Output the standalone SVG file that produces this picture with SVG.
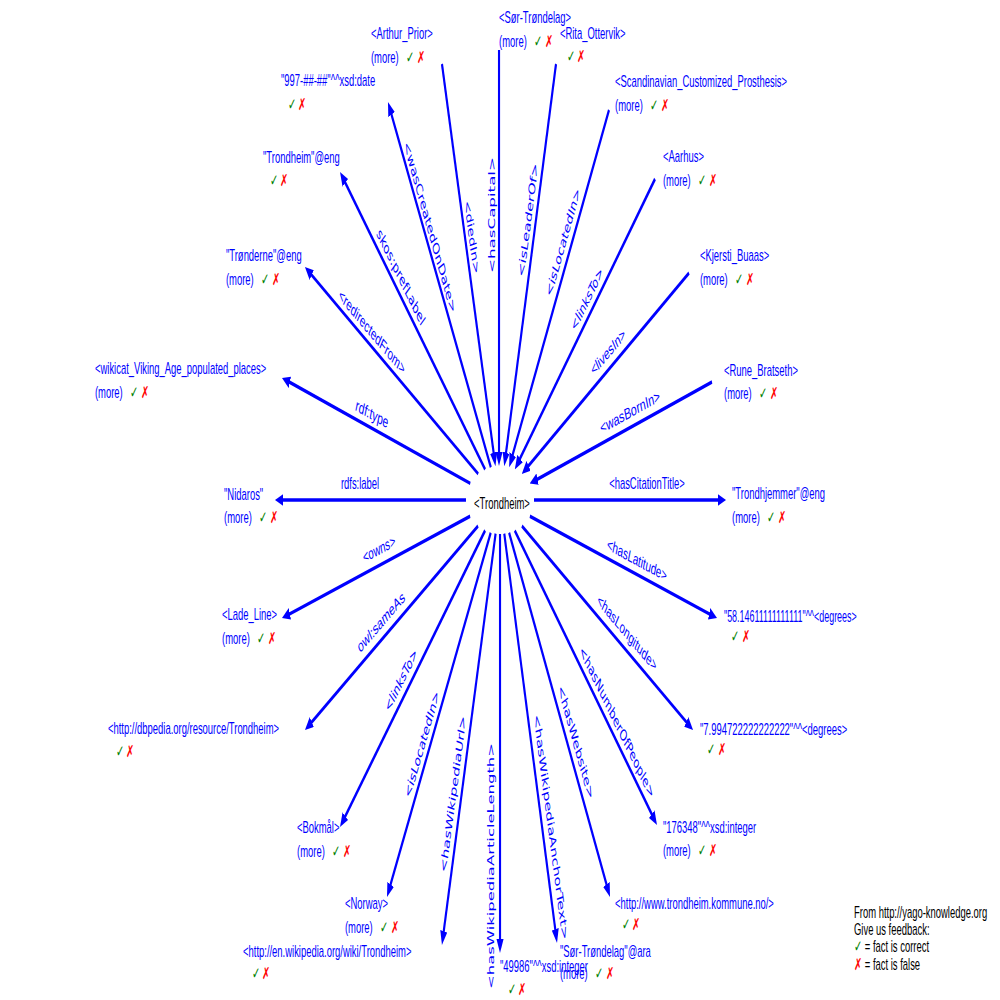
<svg xmlns="http://www.w3.org/2000/svg" width="1000" height="1000" viewBox="0 0 1000 1000">
<style>
.n{font-family:"Liberation Sans",Arial,sans-serif;font-size:16px;fill:#0000ff}
.k{font-family:"DejaVu Sans",sans-serif;font-size:16.5px;fill:#008000}
.x{font-family:"DejaVu Sans",sans-serif;font-size:16.5px;fill:#ff0000}
.el{font-family:"Liberation Sans",Arial,sans-serif;font-size:16px;fill:#0000ff;text-anchor:middle;dominant-baseline:central}
.ed{font-family:"DejaVu Sans",sans-serif;font-size:15.5px;fill:#0000ff;text-anchor:middle;dominant-baseline:central}
.eh{font-family:"Liberation Sans",Arial,sans-serif;font-size:16px;fill:#0000ff;text-anchor:middle}
.e{stroke:#0000ff;stroke-width:3.6;fill:none;marker-end:url(#ah)}
.lg{font-family:"Liberation Sans",Arial,sans-serif;font-size:16px;fill:#000}
</style>
<defs>
<marker id="ah" viewBox="0 0 14 12" markerWidth="14" markerHeight="12" refX="6" refY="6" orient="auto" markerUnits="userSpaceOnUse">
<path d="M0,0L14,6L0,12z" fill="#0000ff"/>
</marker>
</defs>
<rect width="1000" height="1000" fill="#ffffff"/>
<g transform="scale(0.59,1)">
<g id="connectors">
<path class="e" d="M831.9,467.3L661.0,109.2"/>
<path class="e" d="M822.2,469.4L581.4,178.2"/>
<path class="e" d="M810.5,473.9L523.4,271.6"/>
<path class="e" d="M797.1,483.4L485.6,380.5"/>
<path class="e" d="M789.8,500L474.1,500"/>
<path class="e" d="M796.8,516.2L485.6,615.6"/>
<path class="e" d="M810.2,525.9L523.5,725.4"/>
<path class="e" d="M822.2,530.5L581.4,820.8"/>
<path class="e" d="M831.7,532.7L659.4,889.8"/>
<path class="e" d="M840.0,533.7L750.8,937.2"/>
<path class="e" d="M847.5,534L847.5,945"/>
<path class="e" d="M854.7,533.7L942.4,935.2"/>
<path class="e" d="M862.9,532.8L1030.5,889.8"/>
<path class="e" d="M872.5,530.6L1108.5,818.8"/>
<path class="e" d="M884.6,526.0L1168.1,725.4"/>
<path class="e" d="M898.1,516.2L1207.6,615.6"/>
<path class="e" d="M905.1,500L1222.5,500"/>
<path class="e" d="M1206.8,382L905.4,481.0"/>
<path class="e" d="M1167.8,273L890.9,469.3"/>
<path class="e" d="M1110.2,179L877.6,463.2"/>
<path class="e" d="M1032.2,110L866.4,460.1"/>
<path class="e" d="M942.4,64L856.4,458.5"/>
<path class="e" d="M845.8,50L845.8,458"/>
<path class="e" d="M749.1,64L838.0,458.5"/>

<text class="ed" transform="translate(728.8,227) rotate(64.5)" textLength="188" lengthAdjust="spacingAndGlyphs">&lt;wasCreatedOnDate&gt;</text>
<text class="ed" transform="translate(679.7,277) rotate(50.4)" textLength="120" lengthAdjust="spacingAndGlyphs">skos:prefLabel</text>
<text class="el" transform="translate(630.5,332) rotate(35.2)" textLength="134" lengthAdjust="spacingAndGlyphs">&lt;redirectedFrom&gt;</text>
<text class="el" transform="translate(630.5,414) rotate(18.3)" textLength="58" lengthAdjust="spacingAndGlyphs">rdf:type</text>
<text class="eh" x="610.2" y="489">rdfs:label</text>
<text class="el" transform="translate(642.4,549) rotate(-17.7)" textLength="57" lengthAdjust="spacingAndGlyphs">&lt;owns&gt;</text>
<text class="el" transform="translate(645.8,622) rotate(-34.8)" textLength="94" lengthAdjust="spacingAndGlyphs">owl:sameAs</text>
<text class="ed" transform="translate(679.7,680) rotate(-50.3)" textLength="77" lengthAdjust="spacingAndGlyphs">&lt;linksTo&gt;</text>
<text class="ed" transform="translate(715.2,744) rotate(-64.2)" textLength="117" lengthAdjust="spacingAndGlyphs">&lt;isLocatedIn&gt;</text>
<text class="ed" transform="translate(767.8,794) rotate(-77.5)" textLength="160" lengthAdjust="spacingAndGlyphs">&lt;hasWikipediaUrl&gt;</text>
<text class="ed" transform="translate(832.2,866) rotate(-90)" textLength="246" lengthAdjust="spacingAndGlyphs">&lt;hasWikipediaArticleLength&gt;</text>
<text class="ed" transform="translate(933.9,827) rotate(77.7)" textLength="230" lengthAdjust="spacingAndGlyphs">&lt;hasWikipediaAnchorText&gt;</text>
<text class="ed" transform="translate(976.3,742) rotate(64.8)" textLength="124" lengthAdjust="spacingAndGlyphs">&lt;hasWebsite&gt;</text>
<text class="ed" transform="translate(1045.8,722) rotate(50.7)" textLength="191" lengthAdjust="spacingAndGlyphs">&lt;hasNumberOfPeople&gt;</text>
<text class="el" transform="translate(1062.7,633) rotate(35.1)" textLength="120" lengthAdjust="spacingAndGlyphs">&lt;hasLongitude&gt;</text>
<text class="el" transform="translate(1079.7,560) rotate(17.8)" textLength="106" lengthAdjust="spacingAndGlyphs">&lt;hasLatitude&gt;</text>
<text class="eh" x="1096.6" y="489">&lt;hasCitationTitle&gt;</text>
<text class="el" transform="translate(1067.8,412) rotate(-18.2)" textLength="106" lengthAdjust="spacingAndGlyphs">&lt;wasBornIn&gt;</text>
<text class="el" transform="translate(1030.5,352) rotate(-35.3)" textLength="68" lengthAdjust="spacingAndGlyphs">&lt;livesIn&gt;</text>
<text class="ed" transform="translate(994.9,299) rotate(-50.7)" textLength="77" lengthAdjust="spacingAndGlyphs">&lt;linksTo&gt;</text>
<text class="ed" transform="translate(954.2,242) rotate(-64.7)" textLength="118" lengthAdjust="spacingAndGlyphs">&lt;isLocatedIn&gt;</text>
<text class="ed" transform="translate(894.9,220) rotate(-77.7)" textLength="116" lengthAdjust="spacingAndGlyphs">&lt;isLeaderOf&gt;</text>
<text class="ed" transform="translate(833.9,215) rotate(-90)" textLength="116" lengthAdjust="spacingAndGlyphs">&lt;hasCapital&gt;</text>
<text class="ed" transform="translate(800,237) rotate(77.3)" textLength="75" lengthAdjust="spacingAndGlyphs">&lt;diedIn&gt;</text>
</g>

<g id="n-trondheim"><text x="850.8" y="509" text-anchor="middle" style="font-family:'Liberation Sans',Arial,sans-serif;font-size:16px;fill:#000">&lt;Trondheim&gt;</text></g>

<g id="n-arthur"><text class="n" x="628.8" y="39">&lt;Arthur_Prior&gt;</text><text class="n" x="628.8" y="63">(more)</text><text class="k" x="688.1" y="63">✓</text><text class="x" x="706.8" y="63">✗</text></g>
<g id="n-sortrondelag"><text class="n" x="845.8" y="23">&lt;Sør-Trøndelag&gt;</text><text class="n" x="845.8" y="47">(more)</text><text class="k" x="905.1" y="47">✓</text><text class="x" x="923.7" y="47">✗</text></g>
<g id="n-rita"><text class="n" x="949.1" y="39">&lt;Rita_Ottervik&gt;</text><text class="k" x="961.0" y="62">✓</text><text class="x" x="978.0" y="62">✗</text></g>
<g id="n-date"><text class="n" x="476.3" y="86">"997-##-##"^^xsd:date</text><text class="k" x="488.1" y="110">✓</text><text class="x" x="505.1" y="110">✗</text></g>
<g id="n-trondheimeng"><text class="n" x="445.8" y="163">"Trondheim"@eng</text><text class="k" x="457.6" y="186">✓</text><text class="x" x="474.6" y="186">✗</text></g>
<g id="n-scandinavian"><text class="n" x="1042.4" y="87">&lt;Scandinavian_Customized_Prosthesis&gt;</text><text class="n" x="1042.4" y="111">(more)</text><text class="k" x="1101.7" y="111">✓</text><text class="x" x="1120.3" y="111">✗</text></g>
<g id="n-aarhus"><text class="n" x="1123.7" y="162">&lt;Aarhus&gt;</text><text class="n" x="1123.7" y="186">(more)</text><text class="k" x="1183.0" y="186">✓</text><text class="x" x="1201.7" y="186">✗</text></g>
<g id="n-kjersti"><text class="n" x="1186.4" y="261">&lt;Kjersti_Buaas&gt;</text><text class="n" x="1186.4" y="285">(more)</text><text class="k" x="1245.8" y="285">✓</text><text class="x" x="1264.4" y="285">✗</text></g>
<g id="n-rune"><text class="n" x="1227.1" y="376">&lt;Rune_Bratseth&gt;</text><text class="n" x="1227.1" y="399">(more)</text><text class="k" x="1286.4" y="399">✓</text><text class="x" x="1305.1" y="399">✗</text></g>
<g id="n-tronderne"><text class="n" x="383.0" y="261">"Trønderne"@eng</text><text class="n" x="383.0" y="285">(more)</text><text class="k" x="442.4" y="285">✓</text><text class="x" x="461.0" y="285">✗</text></g>
<g id="n-wikicat"><text class="n" x="161.0" y="374">&lt;wikicat_Viking_Age_populated_places&gt;</text><text class="n" x="161.0" y="398">(more)</text><text class="k" x="220.3" y="398">✓</text><text class="x" x="239.0" y="398">✗</text></g>
<g id="n-nidaros"><text class="n" x="379.7" y="500">"Nidaros"</text><text class="n" x="379.7" y="523">(more)</text><text class="k" x="439.0" y="523">✓</text><text class="x" x="457.6" y="523">✗</text></g>
<g id="n-lade"><text class="n" x="376.3" y="620">&lt;Lade_Line&gt;</text><text class="n" x="376.3" y="644">(more)</text><text class="k" x="435.6" y="644">✓</text><text class="x" x="454.2" y="644">✗</text></g>
<g id="n-dbpedia"><text class="n" x="183.0" y="734">&lt;http://dbpedia.org/resource/Trondheim&gt;</text><text class="k" x="196.6" y="757">✓</text><text class="x" x="213.6" y="757">✗</text></g>
<g id="n-bokmal"><text class="n" x="503.4" y="833">&lt;Bokmål&gt;</text><text class="n" x="503.4" y="857">(more)</text><text class="k" x="562.7" y="857">✓</text><text class="x" x="581.3" y="857">✗</text></g>
<g id="n-norway"><text class="n" x="584.7" y="909">&lt;Norway&gt;</text><text class="n" x="584.7" y="933">(more)</text><text class="k" x="644.1" y="933">✓</text><text class="x" x="662.7" y="933">✗</text></g>
<g id="n-enwiki"><text class="n" x="411.9" y="957">&lt;http://en.wikipedia.org/wiki/Trondheim&gt;</text><text class="k" x="427.1" y="979">✓</text><text class="x" x="444.1" y="979">✗</text></g>
<g id="n-length"><text class="n" x="847.5" y="972">"49986"^^xsd:integer</text><text class="k" x="861.0" y="995">✓</text><text class="x" x="878.0" y="995">✗</text></g>
<g id="n-anchor"><text class="n" x="949.1" y="957">"Sør-Trøndelag"@ara</text><text class="n" x="949.1" y="979">(more)</text><text class="k" x="1008.5" y="979">✓</text><text class="x" x="1027.1" y="979">✗</text></g>
<g id="n-website"><text class="n" x="1042.4" y="909">&lt;http://www.trondheim.kommune.no/&gt;</text><text class="k" x="1054.2" y="930">✓</text><text class="x" x="1071.2" y="930">✗</text></g>
<g id="n-people"><text class="n" x="1123.7" y="833">"176348"^^xsd:integer</text><text class="n" x="1123.7" y="856">(more)</text><text class="k" x="1183.0" y="856">✓</text><text class="x" x="1201.7" y="856">✗</text></g>
<g id="n-longitude"><text class="n" x="1186.4" y="735">"7.994722222222222"^^&lt;degrees&gt;</text><text class="k" x="1198.3" y="755">✓</text><text class="x" x="1216.9" y="755">✗</text></g>
<g id="n-latitude"><text class="n" x="1227.1" y="622" textLength="225" lengthAdjust="spacingAndGlyphs">"58.14611111111111"^^&lt;degrees&gt;</text><text class="k" x="1239.0" y="642">✓</text><text class="x" x="1257.6" y="642">✗</text></g>
<g id="n-citation"><text class="n" x="1240.7" y="499">"Trondhjemmer"@eng</text><text class="n" x="1240.7" y="523">(more)</text><text class="k" x="1300.0" y="523">✓</text><text class="x" x="1318.6" y="523">✗</text></g>

<g id="legend">
<text class="lg" x="1447.5" y="918">From http://yago-knowledge.org</text>
<text class="lg" x="1447.5" y="935">Give us feedback:</text>
<text class="lg" x="1447.5" y="952"><tspan style="font-family:'DejaVu Sans',sans-serif;font-size:16.5px;fill:#008000">✓</tspan> = fact is correct</text>
<text class="lg" x="1447.5" y="970"><tspan style="font-family:'DejaVu Sans',sans-serif;font-size:16.5px;fill:#ff0000">✗</tspan> = fact is false</text>
</g>
</g>
</svg>
